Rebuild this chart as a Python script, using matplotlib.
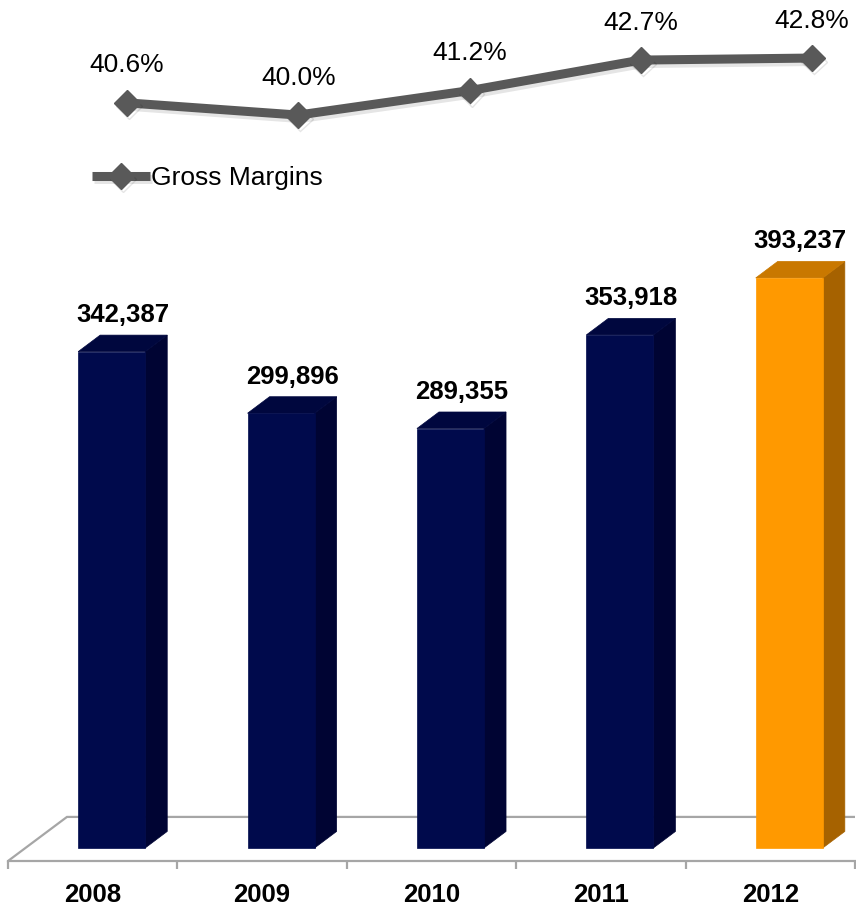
import matplotlib.pyplot as plt
from matplotlib.patches import Polygon
from matplotlib import patheffects

YEARS = ["2008", "2009", "2010", "2011", "2012"]
REVENUE = [342387, 299896, 289355, 353918, 393237]
GROSS_MARGIN = [40.6, 40.0, 41.2, 42.7, 42.8]
HIGHLIGHT = "2012"

# face colours: front, top, side
NAVY = ("#000a4c", "#00073e", "#000433")
ORANGE = ("#ff9900", "#c97800", "#a66200")
LINE_GREY = "#595959"
FLOOR_GREY = "#a6a6a6"

# fake 3d geometry (category units / revenue units)
BAR_W = 0.396
FRONT_OFF = 0.112
DEPTH_X = 0.13
DEPTH_Y = 11400
FLOOR_BACK_X = -0.152
FLOOR_BACK_Y = 21400

plt.rcParams['font.family'] = ['Liberation Sans', 'DejaVu Sans']

W, H = 856, 907
fig = plt.figure(figsize=(W / 100, H / 100), dpi=100)

###############
## BAR PANEL ##
###############

ax = fig.add_axes([8 / W, 46 / H, 847 / W, 661 / H])
ax.set_xlim(-0.5, 4.5)
ax.set_ylim(-9000, 447000)
ymin = ax.get_ylim()[0]

# floor: left edge and back edge
ax.plot([-0.5, FLOOR_BACK_X, 5.0], [ymin, FLOOR_BACK_Y, FLOOR_BACK_Y],
        color=FLOOR_GREY, lw=1.6, solid_joinstyle='miter', zorder=1)

for i, (yr, v) in enumerate(zip(YEARS, REVENUE)):
    front_c, top_c, side_c = ORANGE if yr == HIGHLIGHT else NAVY
    x0 = i + FRONT_OFF - BAR_W / 2
    x1 = x0 + BAR_W
    front = [(x0, 0), (x1, 0), (x1, v), (x0, v)]
    top = [(x0, v), (x1, v), (x1 + DEPTH_X, v + DEPTH_Y), (x0 + DEPTH_X, v + DEPTH_Y)]
    side = [(x1, 0), (x1 + DEPTH_X, DEPTH_Y), (x1 + DEPTH_X, v + DEPTH_Y), (x1, v)]
    for pts, c in ((side, side_c), (top, top_c), (front, front_c)):
        ax.add_patch(Polygon(pts, closed=True, facecolor=c, edgecolor=c,
                             lw=0.5, zorder=2))
    ax.text((x0 + x1 + DEPTH_X) / 2, v + DEPTH_Y + 13800, f"{v:,}",
            ha='center', va='center', fontsize=18.5, fontweight='bold', color='black')

for s in ("top", "left", "right"):
    ax.spines[s].set_visible(False)
ax.spines["bottom"].set_color(FLOOR_GREY)
ax.spines["bottom"].set_linewidth(1.6)
ax.set_yticks([])
ax.set_xticks(range(len(YEARS)))
ax.set_xticklabels(YEARS, fontsize=18.5, fontweight='bold')
ax.set_xticks([i - 0.5 for i in range(len(YEARS) + 1)], minor=True)
ax.tick_params(axis='x', which='major', length=0, pad=16)
ax.tick_params(axis='x', which='minor', length=6, width=1.6,
               color=FLOOR_GREY, direction='out')

################
## LINE PANEL ##
################

lax = fig.add_axes([92.75 / W, 707 / H, 753.5 / W, 200 / H])
lax.set_xlim(-0.2, 4.2)
lax.set_ylim(35.83, 45.65)
lax.axis('off')

shadow = [patheffects.SimpleLineShadow(offset=(1.5, -2.5), shadow_color='black', alpha=0.1),
          patheffects.Normal()]
line, = lax.plot(range(len(YEARS)), GROSS_MARGIN, color=LINE_GREY, lw=6.5,
                 marker='D', markersize=13, label="Gross Margins",
                 solid_capstyle='butt', path_effects=shadow)
for i, m in enumerate(GROSS_MARGIN):
    lax.annotate(f"{m:.1f}%", (i, m), xytext=(0, 27), textcoords='offset points',
                 ha='center', va='center', fontsize=19, color='black')

fig.legend(handles=[line], loc='center left', bbox_to_anchor=(92 / W, 1 - 178 / H),
           frameon=False, fontsize=19, handlelength=2.2, handletextpad=0.05,
           borderpad=0, borderaxespad=0)

fig.savefig("out.png", dpi=100)
